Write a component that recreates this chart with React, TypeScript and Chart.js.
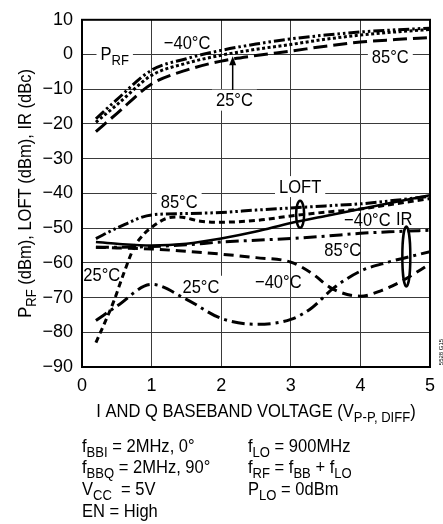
import { useEffect, useRef } from 'react';
import { Chart, registerables } from 'chart.js';

Chart.register(...registerables);

const FONT = '"Liberation Sans", Arial, sans-serif';
const SX = 0.87; // horizontal compression to mimic a condensed face
const TXT = 19;

// ---- tick values / labels ----
const X_TICK_VALUES = [0, 1, 2, 3, 4, 5];
const X_TICK_LABELS = ['0', '1', '2', '3', '4', '5'];
const Y_TICK_VALUES = [-90, -80, -70, -60, -50, -40, -30, -20, -10, 0, 10];
const Y_TICK_LABELS = ['\u221290', '\u221280', '\u221270', '\u221260', '\u221250', '\u221240', '\u221230', '\u221220', '\u221210', '0', '10'];

// ---- series data (x = I/Q baseband voltage, y = dBm / dBc) ----
const X_STD = [0.2, 0.5, 1, 1.5, 2, 2.5, 3, 3.5, 4, 4.5, 5];

const PRF_M40 = [-18.5, -13, -4.5, -1.2, 1.2, 3, 4.5, 5.6, 6.5, 7.1, 7.6];
const PRF_25 = [-19.5, -14.5, -6, -2.5, -0.2, 1.5, 2.9, 4.4, 5.6, 6.5, 7.2];
const PRF_85 = [-22.2, -17, -8.5, -4.5, -1.9, -0.3, 1, 2.4, 3.6, 4.3, 4.9];

const LOFT_M40 = [-54, -54.5, -55, -54.5, -53, -51, -48.5, -46.5, -44.5, -42.5, -40.5];
const LOFT_25_X = [0.2, 0.45, 0.6, 0.75, 0.9, 1.0, 1.2, 1.4, 1.7, 2, 2.5, 3, 3.5, 4, 4.5, 5];
const LOFT_25 = [-83, -71.4, -63, -55.5, -51.5, -49.8, -47.3, -46.8, -48, -48.3, -47.8, -46.5, -45.4, -44.5, -43, -41.5];
const LOFT_85 = [-53, -50, -46.2, -45.8, -45.5, -44.8, -44.2, -43.6, -43, -42, -40.8];

const IR_85 = [-55.5, -55.5, -55.3, -54.8, -54, -53.5, -53, -52.3, -51.5, -51, -50.6];
const IR_M40_X = [0.2, 0.5, 1, 1.5, 2, 2.5, 3, 3.3, 3.6, 4, 4.3, 4.6, 5];
const IR_M40 = [-55.5, -55.7, -56, -56.7, -57.5, -58.5, -59.8, -63, -67.5, -69.6, -68, -65.2, -60.3];
const IR_25_X = [0.2, 0.5, 1, 1.5, 2, 2.5, 3, 3.3, 3.6, 4, 4.4, 5];
const IR_25 = [-76.6, -72.5, -66.2, -70.5, -76, -77.7, -76.3, -73, -67.5, -62.4, -59.8, -56.8];

// ---- line styles ----
const DASH_DOT_DOT = [11, 3, 2.5, 3, 2.5, 3];
const DOTTED = [3, 2.5];
const LONG_DASH = [14, 6];
const SHORT_DASH = [6, 4];
const DASH_DOT = [13, 5, 3, 5];
const MED_DASH = [10, 6];

type Seg = { t: string; sub?: boolean };

function segFont(size: number, sub?: boolean) {
  return `${sub ? Math.round(size * 0.78) : size}px ${FONT}`;
}

function richWidth(ctx: CanvasRenderingContext2D, segs: Seg[], size: number) {
  let w = 0;
  for (const s of segs) {
    ctx.font = segFont(size, s.sub);
    w += ctx.measureText(s.t).width;
  }
  return w * SX;
}

function drawRich(
  ctx: CanvasRenderingContext2D,
  segs: Seg[],
  x: number,
  baseline: number,
  size: number,
  align: 'left' | 'center'
) {
  const w = richWidth(ctx, segs, size);
  const x0 = align === 'center' ? x - w / 2 : x;
  ctx.save();
  ctx.translate(x0, baseline);
  ctx.scale(SX, 1);
  ctx.textAlign = 'left';
  ctx.textBaseline = 'alphabetic';
  ctx.fillStyle = '#000';
  let cx = 0;
  for (const s of segs) {
    ctx.font = segFont(size, s.sub);
    ctx.fillText(s.t, cx, s.sub ? size * 0.28 : 0);
    cx += ctx.measureText(s.t).width;
  }
  ctx.restore();
  return w;
}

type Label = { segs: Seg[]; x: number; y: number; box?: boolean };

const LABELS: Label[] = [
  { segs: [{ t: 'P' }, { t: 'RF', sub: true }], x: 0.47, y: 0.43, box: true },
  { segs: [{ t: '\u221240\u00b0C' }], x: 1.51, y: 3.47 },
  { segs: [{ t: '25\u00b0C' }], x: 2.19, y: -13.0, box: true },
  { segs: [{ t: '85\u00b0C' }], x: 4.43, y: -0.5, box: true },
  { segs: [{ t: 'LOFT' }], x: 3.134, y: -37.9, box: true },
  { segs: [{ t: '85\u00b0C' }], x: 1.396, y: -42.3, box: true },
  { segs: [{ t: '\u221240\u00b0C' }], x: 4.1, y: -47.4 },
  { segs: [{ t: 'IR' }], x: 4.63, y: -47.1 },
  { segs: [{ t: '85\u00b0C' }], x: 3.746, y: -56.2 },
  { segs: [{ t: '\u221240\u00b0C' }], x: 2.82, y: -65.3 },
  { segs: [{ t: '25\u00b0C' }], x: 1.709, y: -66.6, box: true },
  { segs: [{ t: '25\u00b0C' }], x: 0.285, y: -63.4 },
];

const annotPlugin = {
  id: 'annot',
  beforeDatasetsDraw(chart: any) {
    const ctx: CanvasRenderingContext2D = chart.ctx;
    const xs = chart.scales.x;
    const ys = chart.scales.y;
    ctx.save();
    for (const l of LABELS) {
      const px = xs.getPixelForValue(l.x);
      const py = ys.getPixelForValue(l.y);
      const w = richWidth(ctx, l.segs, TXT);
      if (l.box) {
        ctx.fillStyle = '#fff';
        ctx.fillRect(px - w / 2 - 4, py - 10, w + 8, 21);
      }
      drawRich(ctx, l.segs, px, py + 6.8, TXT, 'center');
    }
    ctx.restore();
  },
  afterDatasetsDraw(chart: any) {
    const ctx: CanvasRenderingContext2D = chart.ctx;
    const xs = chart.scales.x;
    const ys = chart.scales.y;
    ctx.save();
    ctx.strokeStyle = '#000';
    ctx.fillStyle = '#000';
    // arrow for 25°C PRF
    const ax = xs.getPixelForValue(2.165);
    const aTop = ys.getPixelForValue(-0.5);
    const aBot = ys.getPixelForValue(-10.2);
    ctx.lineWidth = 1.5;
    ctx.beginPath();
    ctx.moveTo(ax, aBot);
    ctx.lineTo(ax, aTop + 6);
    ctx.stroke();
    ctx.beginPath();
    ctx.moveTo(ax, aTop);
    ctx.lineTo(ax - 3.5, aTop + 9);
    ctx.lineTo(ax + 3.5, aTop + 9);
    ctx.closePath();
    ctx.fill();
    // ellipses
    ctx.lineWidth = 2.5;
    const ell = (xv: number, yv: number, rx: number, ry: number) => {
      ctx.beginPath();
      ctx.ellipse(xs.getPixelForValue(xv), ys.getPixelForValue(yv), rx, ry, 0, 0, Math.PI * 2);
      ctx.stroke();
    };
    ell(3.134, -46, 4, 13.5);
    ell(4.66, -58.2, 4, 30);
    ctx.restore();
  },
  afterDraw(chart: any) {
    const ctx: CanvasRenderingContext2D = chart.ctx;
    const a = chart.chartArea;
    ctx.save();
    ctx.strokeStyle = '#000';
    ctx.lineWidth = 2;
    ctx.strokeRect(a.left, a.top, a.right - a.left, a.bottom - a.top);

    // y-axis title (rotated)
    ctx.translate(31, (a.top + a.bottom) / 2);
    ctx.rotate(-Math.PI / 2);
    drawRich(
      ctx,
      [{ t: 'P' }, { t: 'RF', sub: true }, { t: ' (dBm), LOFT (dBm), IR (dBc)' }],
      0,
      0,
      TXT,
      'center'
    );
    ctx.restore();

    ctx.save();
    // x-axis title
    drawRich(
      ctx,
      [{ t: 'I AND Q BASEBAND VOLTAGE (V' }, { t: 'P-P, DIFF', sub: true }, { t: ')' }],
      (a.left + a.right) / 2,
      417,
      TXT,
      'center'
    );
    // conditions
    const L = 82;
    const R = 248;
    drawRich(ctx, [{ t: 'f' }, { t: 'BBI', sub: true }, { t: ' = 2MHz, 0\u00b0' }], L, 452, TXT, 'left');
    drawRich(ctx, [{ t: 'f' }, { t: 'BBQ', sub: true }, { t: ' = 2MHz, 90\u00b0' }], L, 473, TXT, 'left');
    drawRich(ctx, [{ t: 'V' }, { t: 'CC', sub: true }, { t: '  = 5V' }], L, 495, TXT, 'left');
    drawRich(ctx, [{ t: 'EN = High' }], L, 517, TXT, 'left');
    drawRich(ctx, [{ t: 'f' }, { t: 'LO', sub: true }, { t: ' = 900MHz' }], R, 452, TXT, 'left');
    drawRich(
      ctx,
      [{ t: 'f' }, { t: 'RF', sub: true }, { t: ' = f' }, { t: 'BB', sub: true }, { t: ' + f' }, { t: 'LO', sub: true }],
      R,
      473,
      TXT,
      'left'
    );
    drawRich(ctx, [{ t: 'P' }, { t: 'LO', sub: true }, { t: ' = 0dBm' }], R, 495, TXT, 'left');

    // figure code
    ctx.translate(441, 352);
    ctx.rotate(-Math.PI / 2);
    ctx.font = `6px ${FONT}`;
    ctx.fillStyle = '#000';
    ctx.textAlign = 'center';
    ctx.textBaseline = 'middle';
    ctx.fillText('5528 G15', 0, 0);
    ctx.restore();
  },
};

function mk(xs: number[], ys: number[]) {
  return xs.map((x, i) => ({ x, y: ys[i] }));
}

function line(data: { x: number; y: number }[], dash: number[], width = 3) {
  return {
    data,
    borderColor: '#000',
    backgroundColor: '#000',
    borderWidth: width,
    borderDash: dash,
    pointRadius: 0,
    fill: false,
    tension: 0.4,
    cubicInterpolationMode: 'monotone' as const,
  };
}

export default function App() {
  const ref = useRef<HTMLCanvasElement | null>(null);

  useEffect(() => {
    if (!ref.current) return;
    const chart = new Chart(ref.current, {
      type: 'line',
      data: {
        datasets: [
          line(mk(X_STD, PRF_M40), DASH_DOT_DOT),
          line(mk(X_STD, PRF_25), DOTTED),
          line(mk(X_STD, PRF_85), LONG_DASH),
          line(mk(X_STD, LOFT_M40), [], 2.5),
          line(mk(LOFT_25_X, LOFT_25), SHORT_DASH),
          line(mk(X_STD, LOFT_85), DASH_DOT_DOT),
          line(mk(X_STD, IR_85), DASH_DOT),
          line(mk(IR_M40_X, IR_M40), MED_DASH),
          line(mk(IR_25_X, IR_25), DASH_DOT),
        ] as any,
      },
      options: {
        animation: false,
        responsive: false,
        devicePixelRatio: 1,
        layout: { padding: { left: 8, right: 10, top: 15, bottom: 0 } },
        plugins: { legend: { display: false }, tooltip: { enabled: false } },
        scales: {
          x: {
            type: 'linear',
            min: 0,
            max: 5,
            afterBuildTicks: (s: any) => {
              s.ticks = X_TICK_VALUES.map((v) => ({ value: v }));
            },
            afterFit: (s: any) => {
              s.height = 157;
            },
            ticks: {
              color: '#000',
              font: { family: FONT, size: 18 },
              padding: 8,
              maxRotation: 0,
              callback: (_v: any, i: number) => X_TICK_LABELS[i],
            },
            grid: { color: '#3a3a3a', lineWidth: 1, drawTicks: false },
            border: { display: true, color: '#000', width: 2 },
          },
          y: {
            type: 'linear',
            min: -90,
            max: 10,
            afterBuildTicks: (s: any) => {
              s.ticks = Y_TICK_VALUES.map((v) => ({ value: v }));
            },
            afterFit: (s: any) => {
              s.width = 74;
            },
            ticks: {
              color: '#000',
              font: { family: FONT, size: 18 },
              padding: 9,
              callback: (_v: any, i: number) => Y_TICK_LABELS[i],
            },
            grid: { color: '#3a3a3a', lineWidth: 1, drawTicks: false },
            border: { display: true, color: '#000', width: 2 },
          },
        },
      },
      plugins: [annotPlugin],
    });
    return () => chart.destroy();
  }, []);

  return (
    <div style={{ position: 'absolute', left: 0, top: 0, width: 443, height: 524, background: '#fff' }}>
      <canvas ref={ref} width={443} height={524} />
    </div>
  );
}
